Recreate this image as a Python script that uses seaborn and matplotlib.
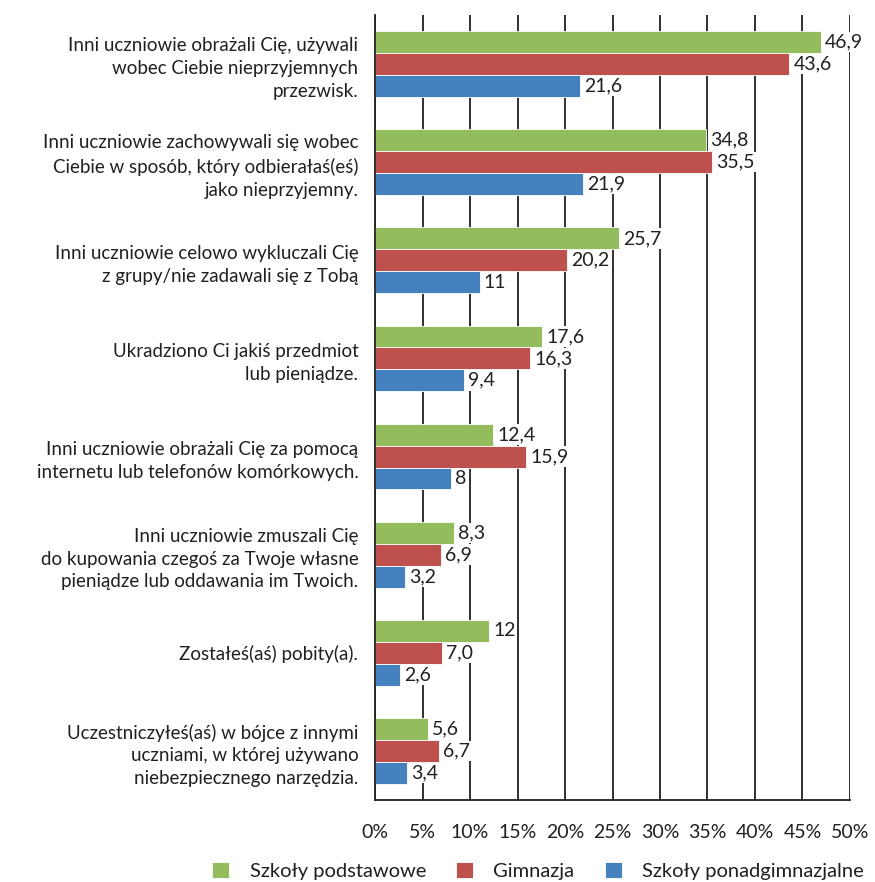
import pandas as pd
import numpy as np
import matplotlib.pyplot as plt
import seaborn as sns
from matplotlib.ticker import FixedLocator

categories = [
    'Inni uczniowie obrażali Cię, używali\nwobec Ciebie nieprzyjemnych\nprzezwisk.',
    'Inni uczniowie zachowywali się wobec\nCiebie w sposób, który odbierałaś(eś)\njako nieprzyjemny.',
    'Inni uczniowie celowo wykluczali Cię\nz grupy/nie zadawali się z Tobą',
    'Ukradziono Ci jakiś przedmiot\nlub pieniądze.',
    'Inni uczniowie obrażali Cię za pomocą\ninternetu lub telefonów komórkowych.',
    'Inni uczniowie zmuszali Cię\ndo kupowania czegoś za Twoje własne\npieniądze lub oddawania im Twoich.',
    'Zostałeś(aś) pobity(a).',
    'Uczestniczyłeś(aś) w bójce z innymi\nuczniami, w której używano\nniebezpiecznego narzędzia.',
]
series = ['Szkoły podstawowe', 'Gimnazja', 'Szkoły ponadgimnazjalne']
podstawowe = [46.9, 34.8, 25.7, 17.6, 12.4, 8.3, 12.0, 5.6]
gimnazja = [43.6, 35.5, 20.2, 16.3, 15.9, 6.9, 7.0, 6.7]
ponadgim = [21.6, 21.9, 11.0, 9.4, 8.0, 3.2, 2.6, 3.4]
labels_podst = ['46,9', '34,8', '25,7', '17,6', '12,4', '8,3', '12', '5,6']
labels_gim = ['43,6', '35,5', '20,2', '16,3', '15,9', '6,9', '7,0', '6,7']
labels_ponad = ['21,6', '21,9', '11', '9,4', '8', '3,2', '2,6', '3,4']
colors = ['#93BC5C', '#BE504E', '#4580BF']

df = pd.DataFrame({
    'kategoria': categories * 3,
    'seria': np.repeat(series, len(categories)),
    'wartosc': podstawowe + gimnazja + ponadgim,
})

sns.set_style('white')
plt.rcParams['font.family'] = ['Lato', 'DejaVu Sans']
ink = '#231f20'

fig = plt.figure(figsize=(8.75, 8.82), dpi=100)
ax = fig.add_axes([0.4286, 0.093, 0.5428, 0.890])

sns.barplot(data=df, y='kategoria', x='wartosc', hue='seria', orient='h',
            palette=colors, saturation=1, width=0.67, ax=ax,
            edgecolor='white', linewidth=0.6)

for cont, labs in zip(ax.containers, [labels_podst, labels_gim, labels_ponad]):
    ax.bar_label(cont, labels=labs, padding=3, fontsize=14, color=ink,
                 bbox=dict(facecolor='white', edgecolor='none', pad=1.2))

ax.set_xlim(0, 50)
ax.set_ylim(len(categories) - 0.5, -0.5)
ax.set_xticks(np.arange(0, 51, 5))
ax.set_xticklabels([f'{v}%' for v in range(0, 51, 5)], fontsize=14, color=ink)
ax.grid(axis='x', color=ink, linewidth=1.3)
ax.set_axisbelow(True)
ax.tick_params(axis='x', direction='out', length=6, width=1.3, color=ink, pad=11)
ax.tick_params(axis='y', which='major', length=0, pad=12, labelsize=13.5, labelcolor=ink)
ax.yaxis.set_minor_locator(FixedLocator(np.arange(-0.5, len(categories), 1)))
ax.tick_params(axis='y', which='minor', direction='out', length=6, width=1.3, color=ink)
for lab in ax.get_yticklabels():
    lab.set_horizontalalignment('right')
    lab.set_multialignment('right')
    lab.set_linespacing(1.42)

for s in ['top', 'right']:
    ax.spines[s].set_visible(False)
for s in ['left', 'bottom']:
    ax.spines[s].set_color(ink)
    ax.spines[s].set_linewidth(1.3)
ax.set_xlabel('')
ax.set_ylabel('')

leg = ax.legend(loc='center', bbox_to_anchor=(0.343, -0.09), ncol=3, frameon=False,
                fontsize=14.5, handlelength=0.85, handleheight=0.85, columnspacing=1.5,
                handletextpad=1.0)
for t in leg.get_texts():
    t.set_color(ink)

fig.savefig('out.png', dpi=100)
